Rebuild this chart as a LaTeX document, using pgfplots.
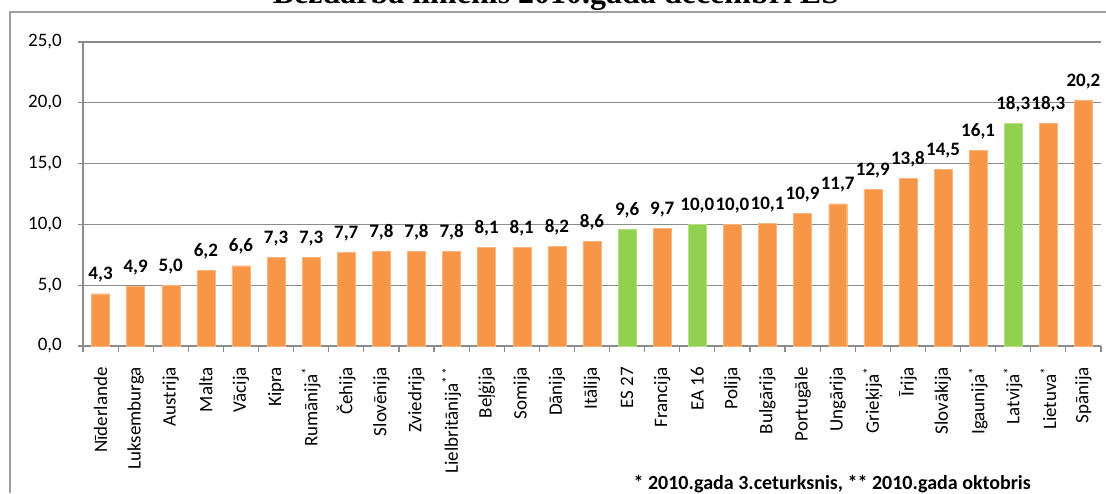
\documentclass[border=0pt]{standalone}
\usepackage{fontspec}
\setmainfont{Carlito}
\newfontfamily\titlefont{Liberation Serif}
\usepackage{pgfplots}
\pgfplotsset{compat=1.18}
\definecolor{barorange}{HTML}{F79646}
\definecolor{bargreen}{HTML}{92D050}
\definecolor{gridgray}{HTML}{8C8C8C}
\definecolor{framegray}{HTML}{A0A0A0}

\begin{document}
\begin{tikzpicture}
\useasboundingbox (0,0) rectangle (1106pt,493pt);

% outer frame (only left and top edges are visible)
\draw[framegray, line width=2.5pt] (10pt,0pt) -- (10pt,481pt) -- (1106pt,481pt);

% title, cut off at the top edge
\node[anchor=base, font=\titlefont\bfseries\fontsize{32}{34}\selectfont]
  at (556pt,489pt) {Bezdarba līmenis 2010.gada decembrī ES};

\begin{axis}[
  at={(83pt,147pt)}, anchor=south west,
  scale only axis, width=1018pt, height=304pt,
  xmin=-0.5, xmax=28.5, ymin=0, ymax=25,
  ybar, bar width=18pt, bar shift=0pt,
  axis lines*=left,
  axis line style={gridgray, line width=1.2pt},
  ymajorgrids=true,
  grid style={gridgray, line width=1.2pt},
  ytick={0,5,10,15,20,25},
  yticklabel style={font=\fontsize{19}{21}\selectfont, inner sep=0pt, xshift=-16pt,
    /pgf/number format/.cd, fixed, fixed zerofill, precision=1, use comma, assume math mode=true},
  tick align=outside,
  major tick length=5pt,
  minor tick length=6pt,
  tick style={gridgray, line width=1.2pt},
  xtick={0,...,28},
  major x tick style={draw=none},
  minor xtick={-0.5,0.5,...,28.5},
  xticklabels={Nīderlande, Luksemburga, Austrija, Malta, Vācija, Kipra,
    Rumānija\textsuperscript{*}, Čehija, Slovēnija, Zviedrija,
    Lielbritānija\textsuperscript{*\,*}, Beļģija, Somija, Dānija, Itālija,
    ES 27, Francija, EA 16, Polija, Bulgārija, Portugāle, Ungārija,
    Grieķija\textsuperscript{*}, Īrija, Slovākija, Igaunija\textsuperscript{*},
    Latvija\textsuperscript{*}, Lietuva\textsuperscript{*}, Spānija},
  xticklabel style={yshift=-16pt, rotate=90, anchor=east, inner sep=0pt,
    font=\fontsize{19}{21}\selectfont},
  point meta=y,
  nodes near coords={\pgfmathprintnumber[fixed, fixed zerofill, precision=1, use comma, assume math mode=true]{\pgfplotspointmeta}},
  every node near coord/.append style={anchor=base, inner sep=0pt, yshift=14pt,
    font=\bfseries\fontsize{19}{21}\selectfont, text=black},
  clip=false,
]
\addplot[fill=barorange, draw=barorange!70!white] coordinates {
  (0,4.3) (1,4.9) (2,5.0) (3,6.2) (4,6.6) (5,7.3) (6,7.3) (7,7.7) (8,7.8)
  (9,7.8) (10,7.8) (11,8.1) (12,8.1) (13,8.2) (14,8.6) (16,9.7) (18,10.0)
  (19,10.1) (20,10.9) (21,11.7) (22,12.9) (23,13.8) (24,14.5) (25,16.1)
  (27,18.3) (28,20.2)};
\addplot[fill=bargreen, draw=bargreen!70!white] coordinates {
  (15,9.6) (17,10.0) (26,18.3)};
\end{axis}

% footnote
\node[anchor=base west, font=\bfseries\fontsize{20}{22}\selectfont]
  at (630pt,4pt) {* 2010.gada 3.ceturksnis, ** 2010.gada oktobris};
\end{tikzpicture}
\end{document}
